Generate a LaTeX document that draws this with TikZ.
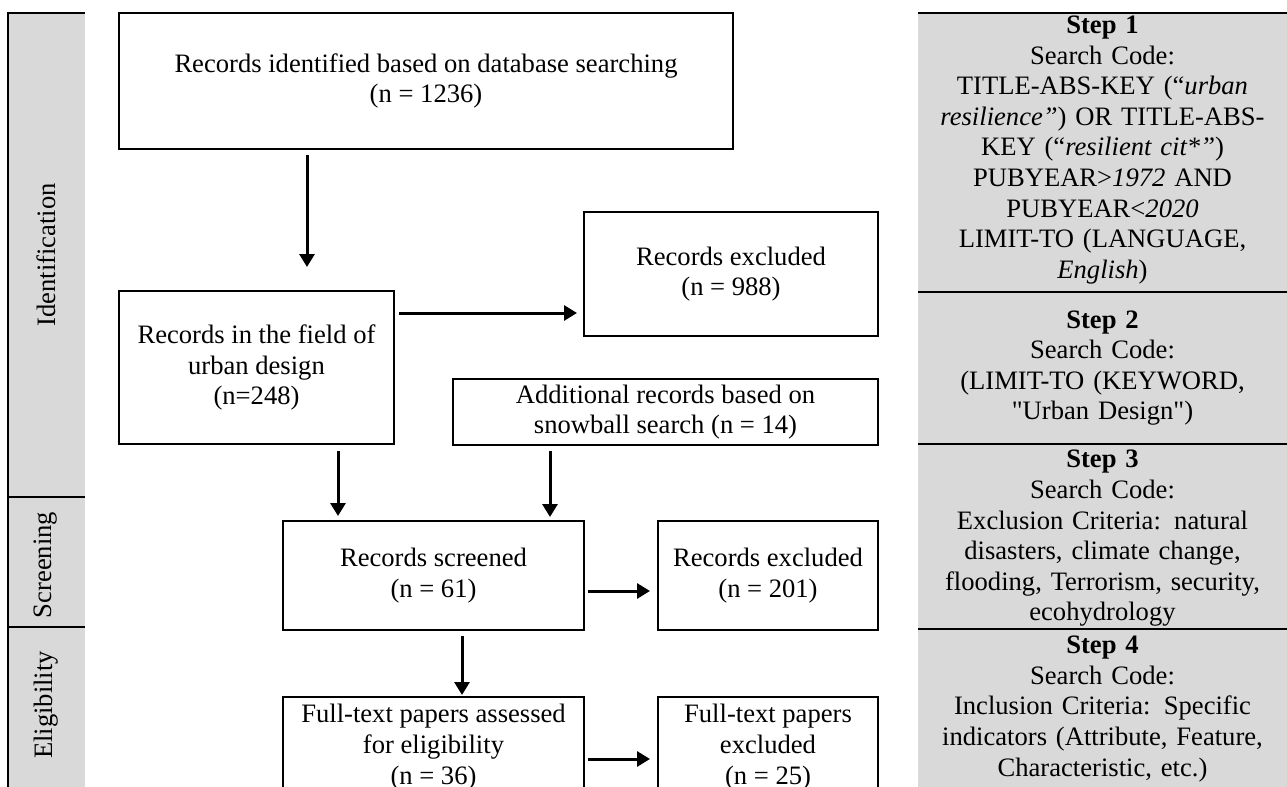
\documentclass[tikz,border=0pt]{standalone}
\usepackage{fontspec}
\setmainfont{Liberation Serif}[Ligatures=TeXOff]
\usetikzlibrary{arrows.meta,positioning,calc}
\definecolor{CellGray}{HTML}{D9D9D9}

\begin{document}
\begin{tikzpicture}[x=0.5pt,y=-0.5pt,
    every node/.style={font=\fontsize{13.3}{15.3}\selectfont,inner sep=0pt},
    box/.style={draw,line width=1pt,align=center},
    arr/.style={-{Triangle[length=6.5pt,width=7.5pt]},line width=1.5pt},
    rule/.style={line width=1pt},
    cell/.style={align=center,text width=180pt}]
  \useasboundingbox (0,0) rectangle (1287,787);
  \clip (0,0) rectangle (1287,787);
  \fill[CellGray] (8,13) rectangle (85,800);
  \fill[CellGray] (918,13) rectangle (1287,800);
  \draw[rule] (8,800) -- (8,13) -- (85,13);
  \draw[rule] (8,497) -- (85,497);
  \draw[rule] (8,627) -- (85,627);
  \draw[rule] (918,13) -- (1287,13);
  \draw[rule] (918,292) -- (1287,292);
  \draw[rule] (918,444) -- (1287,444);
  \draw[rule] (918,629) -- (1287,629);
  \node[rotate=90] (lident) at (46,255) {Identification};
  \node[rotate=90] (lscreen) at (46,565) {Screening};
  \node[rotate=90] (lelig) at (46,705) {Eligibility};
  \node[box,minimum width=307pt,minimum height=68pt] (ident) at (426,81)
    {Records identified based on database searching\\(n = 1236)};
  \node[box,minimum width=137.5pt,minimum height=76.5pt] (field) at (256.5,367.5)
    {Records in the field of\\urban design\\(n=248)};
  \node[box,minimum width=147pt,minimum height=62pt] (excl) at (731,274)
    {Records excluded\\(n = 988)};
  \node[box,minimum width=212.5pt,minimum height=33pt] (extra) at (665.5,412)
    {Additional records based on\\snowball search (n = 14)};
  \node[box,minimum width=150.5pt,minimum height=54.5pt] (screen) at (433.5,575.5)
    {Records screened\\(n = 61)};
  \node[box,minimum width=110pt,minimum height=54.5pt] (screenx) at (768,575.5)
    {Records excluded\\(n = 201)};
  \node[box,minimum width=150.5pt,minimum height=50pt] (full) at (433.5,747)
    {Full-text papers assessed\\for eligibility\\(n = 36)};
  \node[box,minimum width=110pt,minimum height=50pt] (fullx) at (768,747)
    {Full-text papers\\excluded\\(n = 25)};
  \node[cell] (step1) at (1102.5,150)
    {\textbf{Step 1}\\Search Code:\\TITLE-ABS-KEY (“\textit{urban}\\
     \textit{resilience”}) OR TITLE-ABS-\\KEY (“\textit{resilient cit*”})\\
     PUBYEAR>\textit{1972} AND\\PUBYEAR<\textit{2020}\\LIMIT-TO (LANGUAGE,\\
     \textit{English})};
  \node[cell] (step2) at (1102.5,368)
    {\textbf{Step 2}\\Search Code:\\(LIMIT-TO (KEYWORD,\\"Urban Design")};
  \node[cell] (step3) at (1102.5,538.5)
    {\textbf{Step 3}\\Search Code:\\Exclusion Criteria: natural\\
     disasters, climate change,\\flooding, Terrorism, security,\\ecohydrology};
  \node[cell] (step4) at (1102.5,709)
    {\textbf{Step 4}\\Search Code:\\Inclusion Criteria: Specific\\
     indicators (Attribute, Feature,\\Characteristic, etc.)};
  \coordinate (a1) at (307,0);
  \coordinate (a2) at (0,313);
  \coordinate (a3) at (338,0);
  \coordinate (a4) at (550,0);
  \coordinate (a5) at (0,591);
  \coordinate (a6) at (462,0);
  \coordinate (a7) at (0,759);
  \draw[arr,shorten <=2.5pt,shorten >=11.5pt] (ident.south -| a1) -- (field.north -| a1);
  \draw[arr,shorten <=2pt,shorten >=3pt] (field.east |- a2) -- (excl.west |- a2);
  \draw[arr,shorten <=3pt,shorten >=2pt] (field.south -| a3) -- (screen.north -| a3);
  \draw[arr,shorten <=2.5pt,shorten >=1.5pt] (extra.south -| a4) -- (screen.north -| a4);
  \draw[arr,shorten <=1.5pt,shorten >=3.5pt] (screen.east |- a5) -- (screenx.west |- a5);
  \draw[arr,shorten <=2.5pt,shorten >=0.5pt] (screen.south -| a6) -- (full.north -| a6);
  \draw[arr,shorten <=1.5pt,shorten >=3.5pt] (full.east |- a7) -- (fullx.west |- a7);
\end{tikzpicture}
\end{document}
